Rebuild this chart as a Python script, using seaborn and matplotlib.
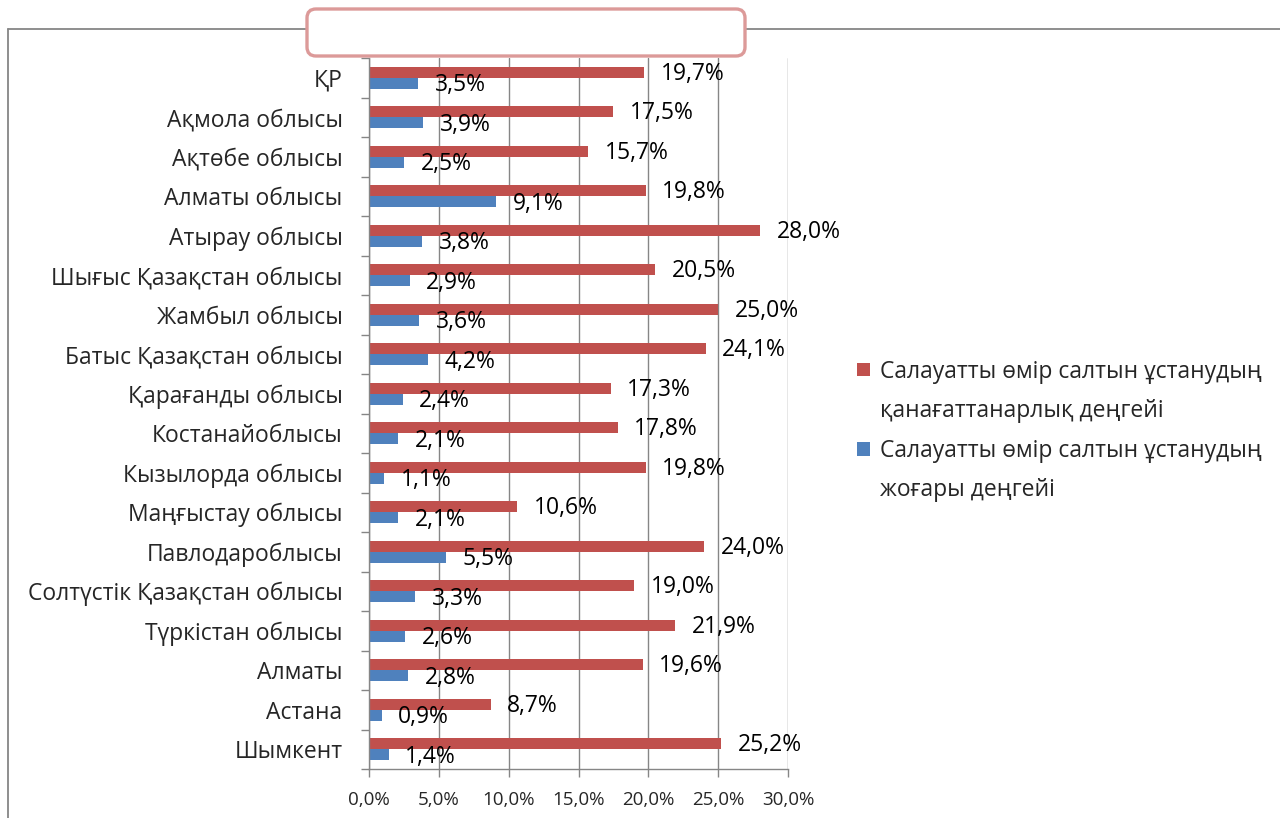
import pandas as pd
import matplotlib.pyplot as plt
import seaborn as sns
from matplotlib.patches import Patch, FancyBboxPatch
from matplotlib.lines import Line2D
from matplotlib.transforms import IdentityTransform

# Деректер
regions = ['ҚР', 'Ақмола облысы', 'Ақтөбе облысы', 'Алматы облысы', 'Атырау облысы',
           'Шығыс Қазақстан облысы', 'Жамбыл облысы', 'Батыс Қазақстан облысы',
           'Қарағанды облысы', 'Костанайоблысы', 'Кызылорда облысы', 'Маңғыстау облысы',
           'Павлодароблысы', 'Солтүстік Қазақстан облысы', 'Түркістан облысы',
           'Алматы', 'Астана', 'Шымкент']
satisfactory = [19.7, 17.5, 15.7, 19.8, 28.0, 20.5, 25.0, 24.1, 17.3, 17.8,
                19.8, 10.6, 24.0, 19.0, 21.9, 19.6, 8.7, 25.2]
high = [3.5, 3.9, 2.5, 9.1, 3.8, 2.9, 3.6, 4.2, 2.4, 2.1,
        1.1, 2.1, 5.5, 3.3, 2.6, 2.8, 0.9, 1.4]
series_names = ['Салауатты өмір салтын ұстанудың\nқанағаттанарлық деңгейі',
                'Салауатты өмір салтын ұстанудың\nжоғары деңгейі']
xticks = [0, 5, 10, 15, 20, 25, 30]

red = '#C0504D'
blue = '#4F81BD'
gray = '#868686'
fs = 16.5

df = pd.DataFrame({
    'region': regions * 2,
    'value': satisfactory + high,
    'series': [series_names[0]] * len(regions) + [series_names[1]] * len(regions),
})

sns.set_style('white')
plt.rcParams['font.family'] = ['Open Sans', 'Noto Sans', 'DejaVu Sans']

fig = plt.figure(figsize=(12.8, 8.18), dpi=100)
ax = fig.add_axes([369 / 1280, 1 - 769 / 818, (788 - 369) / 1280, (769 - 58) / 818])

sns.barplot(data=df, x='value', y='region', hue='series', orient='h',
            palette=[red, blue], width=0.56, legend=False, ax=ax,
            saturation=1, edgecolor='none')

ax.set_xlim(0, 30)
ax.set_ylim(len(regions) - 0.5, -0.5)
ax.set_xticks(xticks)
ax.set_xticklabels([f'{v:.1f}%'.replace('.', ',') for v in xticks], fontsize=13.5)
ax.set_yticks(range(len(regions)))
ax.set_yticklabels(regions, fontsize=fs)
ax.set_yticks([k - 0.5 for k in range(len(regions) + 1)], minor=True)
ax.tick_params(axis='y', which='major', length=0, pad=19)
ax.tick_params(axis='y', which='minor', length=6, color=gray, width=1, direction='out', left=True)
ax.tick_params(axis='x', length=6, color=gray, width=1, direction='out', bottom=True, pad=10)
ax.set_xlabel('')
ax.set_ylabel('')

ax.grid(axis='x', color=gray, linewidth=1)
ax.set_axisbelow(True)
for s in ['top', 'right']:
    ax.spines[s].set_visible(False)
for s in ['left', 'bottom']:
    ax.spines[s].set_color(gray)
    ax.spines[s].set_linewidth(1)

# Мән белгілері
for container, dy in zip(ax.containers, [-1, -1.5]):
    for p in container:
        w = p.get_width()
        ax.annotate(f'{w:.1f}%'.replace('.', ','),
                    (w, p.get_y() + p.get_height() / 2),
                    xytext=(12, dy), textcoords='offset points',
                    ha='left', va='center', fontsize=fs, color='black')

# Легенда: әр жол жеке жазба, маркер бірінші жолда
blank = Patch(facecolor='none', edgecolor='none')
handles, labels = [], []
for name, col in zip(series_names, [red, blue]):
    first, second = name.split('\n')
    handles += [Patch(facecolor=col, edgecolor='none'), blank]
    labels += [first, second]
fig.legend(handles, labels, loc='center left',
           bbox_to_anchor=(857 / 1280, 1 - 431 / 818), frameon=False,
           fontsize=fs, handlelength=0.55, handleheight=0.55,
           handletextpad=0.45, labelspacing=0.68, borderpad=0, borderaxespad=0)

# Диаграмма шекарасы және бос тақырып жолағы
fig.add_artist(Line2D([8 / 1280, 1], [1 - 29 / 818, 1 - 29 / 818], color=gray, lw=1.3))
fig.add_artist(Line2D([8 / 1280, 8 / 1280], [0, 1 - 29 / 818], color=gray, lw=1.3))
box = FancyBboxPatch((307, 818 - 56), 438, 47,
                     boxstyle='round,pad=0,rounding_size=9',
                     transform=IdentityTransform(), facecolor='white',
                     edgecolor='#DC9A99', linewidth=2.4, zorder=5)
fig.add_artist(box)

fig.savefig('out.png', dpi=100)
